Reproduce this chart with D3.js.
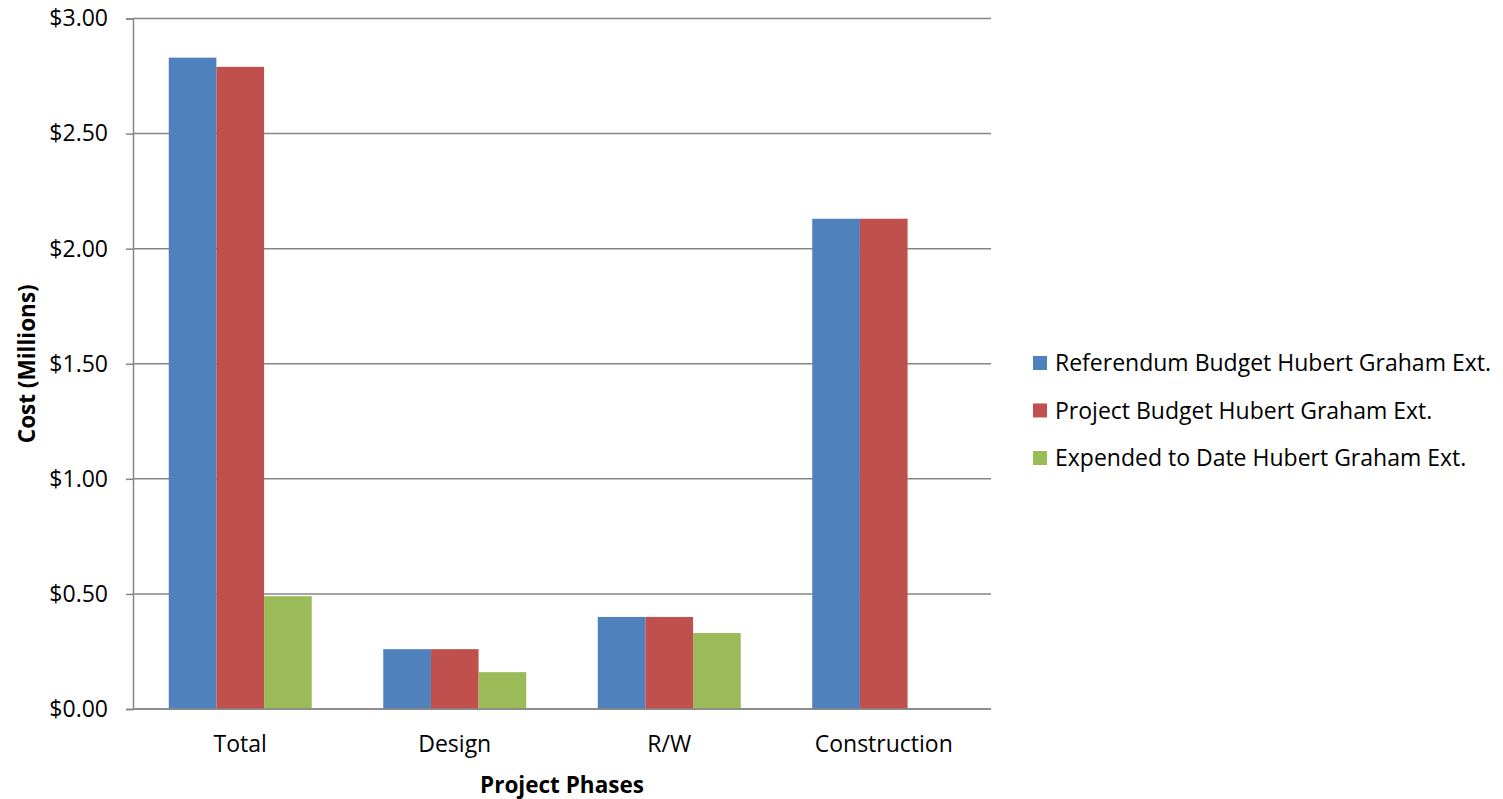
<!DOCTYPE html>
<html>
<head>
<meta charset="utf-8">
<script src="https://cdn.jsdelivr.net/npm/d3@7"></script>
<style>
  html, body { margin: 0; padding: 0; background: #fff; }
  svg { display: block; font-family: "Open Sans", "Liberation Sans", sans-serif; }
</style>
</head>
<body>
<svg id="chart" width="1503" height="799"></svg>
<script>
// Project phases along the x axis
const categories = ["Total", "Design", "R/W", "Construction"];

// Series names and colours
const seriesNames = [
  "Referendum Budget Hubert Graham Ext.",
  "Project Budget Hubert Graham Ext.",
  "Expended to Date Hubert Graham Ext."
];
const seriesColors = ["#4F81BD", "#C0504D", "#9BBB59"];

// Cost in millions of dollars, one array per series (same order as categories)
const referendumBudget = [2.83, 0.26, 0.40, 2.13];
const projectBudget    = [2.79, 0.26, 0.40, 2.13];
const expendedToDate   = [0.49, 0.16, 0.33, 0.00];

// Y axis tick values
const yTicks = [0, 0.5, 1.0, 1.5, 2.0, 2.5, 3.0];

const seriesValues = [referendumBudget, projectBudget, expendedToDate];

const svg = d3.select("#chart");
const plot = { left: 133, right: 991, top: 18.5, bottom: 709 };

const y = d3.scaleLinear().domain([0, 3]).range([plot.bottom, plot.top]);
const x0 = d3.scaleBand().domain(categories)
  .range([plot.left, plot.right])
  .paddingInner(1 / 3).paddingOuter(1 / 6);
const x1 = d3.scaleBand().domain(d3.range(seriesNames.length))
  .range([0, x0.bandwidth()]);

const gridColor = "#868686";
const labelSize = "23px";

// Horizontal gridlines
svg.append("g")
  .selectAll("line")
  .data(yTicks)
  .join("line")
  .attr("x1", plot.left).attr("x2", plot.right)
  .attr("y1", d => y(d)).attr("y2", d => y(d))
  .attr("stroke", gridColor).attr("stroke-width", 1.5);

// Bars
const groups = svg.append("g")
  .selectAll("g")
  .data(categories)
  .join("g")
  .attr("transform", c => `translate(${x0(c)},0)`);

groups.selectAll("rect")
  .data((c, ci) => seriesValues.map((vals, si) => ({ si, v: vals[ci] })))
  .join("rect")
  .filter(d => d.v > 0)
  .attr("x", d => x1(d.si))
  .attr("width", x1.bandwidth())
  .attr("y", d => y(d.v))
  .attr("height", d => y(0) - y(d.v))
  .attr("fill", d => seriesColors[d.si]);

// Y axis
const yAxis = d3.axisLeft(y)
  .tickValues(yTicks)
  .tickSize(7)
  .tickPadding(18)
  .tickFormat(d => "$" + d3.format(".2f")(d));

const gy = svg.append("g")
  .attr("transform", `translate(${plot.left},0)`)
  .call(yAxis);
gy.select(".domain").attr("stroke", gridColor).attr("stroke-width", 1.5);
gy.selectAll(".tick line").attr("stroke", gridColor).attr("stroke-width", 1.5);
gy.selectAll(".tick text")
  .attr("fill", "#000")
  .style("font-size", labelSize)
  .style("font-family", "'Open Sans', sans-serif");

// Baseline
svg.append("line")
  .attr("x1", plot.left).attr("x2", plot.right)
  .attr("y1", y(0)).attr("y2", y(0))
  .attr("stroke", gridColor).attr("stroke-width", 1.5);

// Category labels
svg.append("g")
  .selectAll("text")
  .data(categories)
  .join("text")
  .attr("x", c => x0(c) + x0.bandwidth() / 2)
  .attr("y", 752)
  .attr("text-anchor", "middle")
  .style("font-size", labelSize)
  .text(c => c);

// Axis titles
svg.append("text")
  .attr("x", (plot.left + plot.right) / 2)
  .attr("y", 793)
  .attr("text-anchor", "middle")
  .style("font-size", "22.5px")
  .style("font-weight", "bold")
  .text("Project Phases");

svg.append("text")
  .attr("transform", `translate(35,${(plot.top + plot.bottom) / 2}) rotate(-90)`)
  .attr("text-anchor", "middle")
  .style("font-size", "22.5px")
  .style("font-weight", "bold")
  .text("Cost (Millions)");

// Legend
const legend = svg.append("g")
  .selectAll("g")
  .data(seriesNames)
  .join("g")
  .attr("transform", (d, i) => `translate(1033,${363 + i * 47.5})`);

legend.append("rect")
  .attr("x", 0).attr("y", -7)
  .attr("width", 14).attr("height", 14)
  .attr("fill", (d, i) => seriesColors[i]);

legend.append("text")
  .attr("x", 22).attr("y", 0)
  .attr("dy", "0.35em")
  .style("font-size", labelSize)
  .text(d => d);
</script>
</body>
</html>
